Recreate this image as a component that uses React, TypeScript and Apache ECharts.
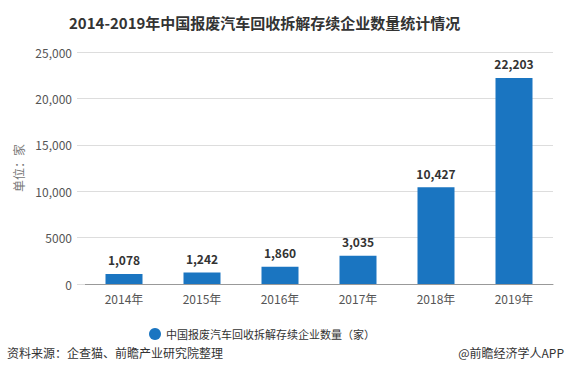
import React, { useEffect, useRef } from "react";
import * as echarts from "echarts";

const categories = ["2014年", "2015年", "2016年", "2017年", "2018年", "2019年"];
const values = [1078, 1242, 1860, 3035, 10427, 22203];
const yTicks = [0, 5000, 10000, 15000, 20000, 25000];
const seriesName = "中国报废汽车回收拆解存续企业数量（家）";

const fmt = (v: number) => (v >= 10000 ? v.toLocaleString("en-US") : String(v));

export default function App() {
  const ref = useRef<HTMLDivElement>(null);
  useEffect(() => {
    const chart = echarts.init(ref.current!, null, { renderer: "svg" });
    const font = "'Microsoft YaHei', 'Noto Sans CJK SC', sans-serif";
    chart.setOption({
      animation: false,
      backgroundColor: "#ffffff",
      textStyle: { fontFamily: font },
      title: {
        text: "2014-2019年中国报废汽车回收拆解存续企业数量统计情况",
        left: 64,
        top: 10,
        textStyle: { fontSize: 15, fontWeight: "bold", color: "#333", fontFamily: font },
      },
      legend: {
        data: [seriesName],
        left: 144,
        top: 323,
        icon: "circle",
        itemWidth: 12,
        itemHeight: 12,
        itemGap: 6,
        textStyle: { fontSize: 11, color: "#333", fontFamily: font },
      },
      grid: { left: 85, right: 13, top: 52, bottom: 99, containLabel: false },
      xAxis: {
        type: "category",
        data: categories,
        axisLine: { lineStyle: { color: "#999" } },
        axisTick: { show: false },
        axisLabel: { color: "#555", fontSize: 12, margin: 8 },
      },
      yAxis: {
        type: "value",
        min: 0,
        max: 25000,
        interval: 5000,
        name: "单位：家",
        nameLocation: "middle",
        nameRotate: 90,
        nameGap: 57,
        nameTextStyle: { color: "#777", fontSize: 12, fontFamily: font },
        axisLine: { show: false },
        axisTick: { show: true, length: 8, lineStyle: { color: "#ddd" } },
        splitLine: { lineStyle: { color: "#ddd" } },
        axisLabel: {
          color: "#555",
          fontSize: 12,
          margin: 13,
          formatter: (v: number) => (yTicks.includes(v) ? fmt(v) : ""),
        },
      },
      series: [
        {
          name: seriesName,
          type: "bar",
          data: values,
          barWidth: 37,
          itemStyle: { color: "#1a75c1" },
          label: {
            show: true,
            position: "top",
            distance: 8,
            color: "#333",
            fontSize: 12,
            fontWeight: "bold",
            formatter: (p: any) => Number(p.value).toLocaleString("en-US"),
          },
        },
      ],
      graphic: [
        {
          type: "text",
          left: 7,
          top: 346,
          style: { text: "资料来源：企查猫、前瞻产业研究院整理", fontSize: 12, fill: "#333", fontFamily: font },
        },
        {
          type: "text",
          right: 2,
          top: 346,
          style: { text: "@前瞻经济学人APP", fontSize: 12, fill: "#333", fontFamily: font },
        },
      ],
    });
    return () => chart.dispose();
  }, []);
  return <div ref={ref} style={{ width: 566, height: 383, position: "absolute", left: 0, top: 0 }} />;
}
